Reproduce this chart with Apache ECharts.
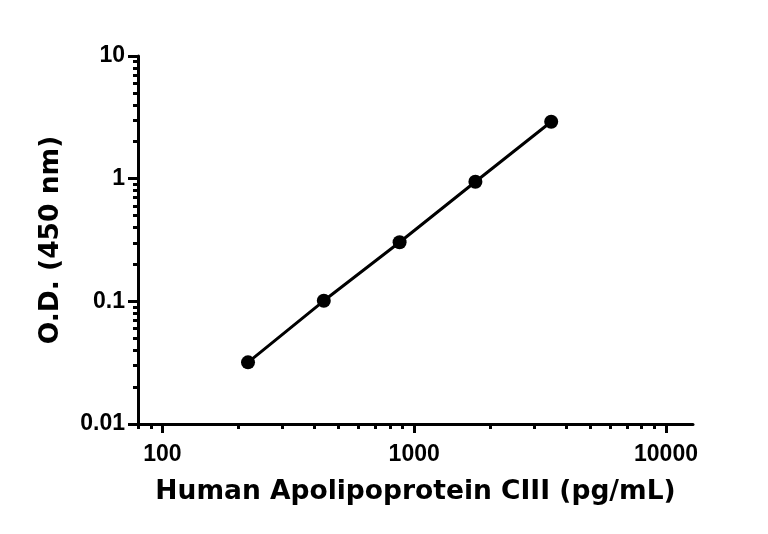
<!DOCTYPE html>
<html>
<head>
<meta charset="utf-8">
<script src="https://cdn.jsdelivr.net/npm/echarts@6/dist/echarts.min.js"></script>
<style>
html,body{margin:0;padding:0;background:#fff;}
#chart{width:768px;height:534px;}
</style>
</head>
<body>
<div id="chart"></div>
<script>
// Data
var concentrations = [218.75, 437.5, 875, 1750, 3500];
var odValues = [0.0318, 0.101, 0.303, 0.943, 2.91];

// Axis ticks
var xMajorTicks = [100, 1000, 10000];
var xMajorLabels = ['100', '1000', '10000'];
var xMinorTicks = [80, 90, 200, 300, 400, 500, 600, 700, 800, 900, 2000, 3000, 4000, 5000, 6000, 7000, 8000, 9000];
var yMajorTicks = [0.01, 0.1, 1, 10];
var yMajorLabels = ['0.01', '0.1', '1', '10'];
var yMinorTicks = [0.02, 0.03, 0.04, 0.05, 0.06, 0.07, 0.08, 0.09, 0.2, 0.3, 0.4, 0.5, 0.6, 0.7, 0.8, 0.9, 2, 3, 4, 5, 6, 7, 8, 9];

var xTitle = 'Human Apolipoprotein CIII (pg/mL)';
var yTitle = 'O.D. (450 nm)';

var xMin = 80, xMax = 12800, yMin = 0.01, yMax = 10;

function labelFor(ticks, labels) {
  return function (v) {
    for (var i = 0; i < ticks.length; i++) {
      if (Math.abs(Math.log10(v) - Math.log10(ticks[i])) < 1e-6) return labels[i];
    }
    return '';
  };
}

var tickFont = {fontFamily: '"Liberation Sans", Arial, sans-serif', fontWeight: 'bold', fontSize: 23, color: '#000'};
var titleFont = {fontFamily: '"DejaVu Sans", sans-serif', fontWeight: 'bold', fontSize: 26.5, color: '#000'};

var chart = echarts.init(document.getElementById('chart'), null, {renderer: 'canvas'});
chart.setOption({
  animation: false,
  backgroundColor: '#fff',
  grid: {left: 138, right: 75, top: 56, bottom: 110, containLabel: false},
  xAxis: [
    {
      type: 'log', logBase: 10, min: xMin, max: xMax, position: 'bottom',
      axisLine: {show: true, lineStyle: {color: '#000', width: 3}},
      axisTick: {show: true, customValues: xMajorTicks, length: 9, lineStyle: {color: '#000', width: 3}},
      axisLabel: Object.assign({customValues: xMajorTicks, margin: 19, formatter: labelFor(xMajorTicks, xMajorLabels)}, tickFont),
      splitLine: {show: false},
      minorTick: {show: false},
      name: xTitle, nameLocation: 'middle', nameGap: 55,
      nameTextStyle: titleFont
    },
    {
      type: 'log', logBase: 10, min: xMin, max: xMax, position: 'bottom',
      axisLine: {show: false},
      axisTick: {show: true, customValues: xMinorTicks, length: 5, lineStyle: {color: '#000', width: 3}},
      axisLabel: {show: false},
      splitLine: {show: false}
    }
  ],
  yAxis: [
    {
      type: 'log', logBase: 10, min: yMin, max: yMax, position: 'left',
      axisLine: {show: true, lineStyle: {color: '#000', width: 3}},
      axisTick: {show: true, customValues: yMajorTicks, length: 10, lineStyle: {color: '#000', width: 3}},
      axisLabel: Object.assign({customValues: yMajorTicks, margin: 13, formatter: labelFor(yMajorTicks, yMajorLabels)}, tickFont),
      splitLine: {show: false},
      name: yTitle, nameLocation: 'middle', nameGap: 73, nameRotate: 90,
      nameTextStyle: titleFont
    },
    {
      type: 'log', logBase: 10, min: yMin, max: yMax, position: 'left',
      axisLine: {show: false},
      axisTick: {show: true, customValues: yMinorTicks, length: 5, lineStyle: {color: '#000', width: 3}},
      axisLabel: {show: false},
      splitLine: {show: false}
    }
  ],
  series: [{
    type: 'line',
    xAxisIndex: 0, yAxisIndex: 0,
    data: concentrations.map(function (c, i) { return [c, odValues[i]]; }),
    symbol: 'circle', symbolSize: 14,
    itemStyle: {color: '#000'},
    lineStyle: {color: '#000', width: 3},
    z: 5
  }]
});
</script>
</body>
</html>
